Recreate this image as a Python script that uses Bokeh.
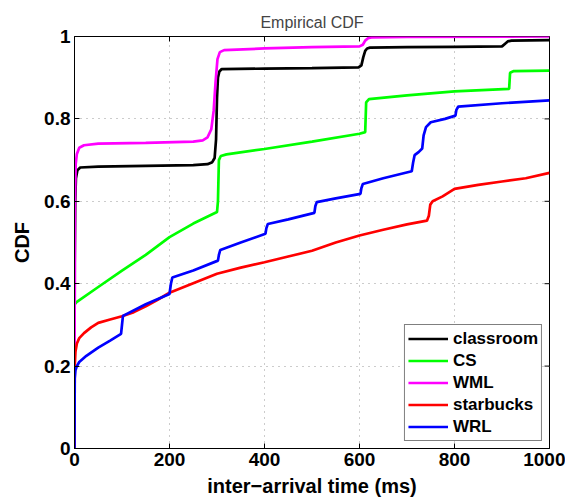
import math
from bokeh.plotting import figure
from bokeh.models import FixedTicker, Legend, LegendItem, Range1d
from bokeh.embed import file_html
from bokeh.resources import INLINE

# ---- data ----
classroom_x = [0, 0.5, 1.5, 3, 6, 12, 50, 150, 250, 280, 290, 295, 298, 300, 302, 305, 310, 400, 500, 598, 604, 608, 612, 616, 622, 700, 800, 900, 906, 912, 920, 1000]
classroom_y = [0, 0.45, 0.6, 0.655, 0.675, 0.682, 0.684, 0.686, 0.688, 0.69, 0.695, 0.705, 0.75, 0.85, 0.9, 0.915, 0.921, 0.922, 0.923, 0.925, 0.93, 0.95, 0.965, 0.971, 0.973, 0.974, 0.975, 0.976, 0.982, 0.988, 0.99, 0.991]

cs_x = [0, 0.3, 5, 50, 100, 150, 200, 250, 300, 302, 304, 308, 320, 400, 500, 600, 612, 614, 620, 700, 800, 915, 917, 925, 1000]
cs_y = [0, 0.35, 0.356, 0.392, 0.432, 0.47, 0.513, 0.546, 0.574, 0.6, 0.7, 0.71, 0.714, 0.727, 0.745, 0.764, 0.768, 0.84, 0.848, 0.857, 0.867, 0.873, 0.912, 0.916, 0.917]

wml_x = [0, 0.3, 1, 2.5, 5, 10, 20, 50, 150, 250, 270, 280, 288, 293, 297, 301, 306, 315, 400, 500, 600, 607, 612, 618, 625, 700, 1000]
wml_y = [0, 0.3, 0.6, 0.69, 0.715, 0.73, 0.736, 0.74, 0.742, 0.745, 0.748, 0.755, 0.775, 0.82, 0.89, 0.945, 0.962, 0.967, 0.971, 0.974, 0.976, 0.98, 0.99, 0.996, 0.998, 0.999, 1.0]

starbucks_x = [0, 0.5, 2, 5, 10, 20, 35, 50, 75, 100, 125, 150, 175, 200, 250, 300, 350, 400, 450, 500, 550, 600, 650, 700, 742, 746, 749, 754, 775, 800, 850, 900, 950, 1000]
starbucks_y = [0, 0.2, 0.235, 0.255, 0.268, 0.28, 0.294, 0.305, 0.313, 0.321, 0.331, 0.345, 0.361, 0.378, 0.401, 0.424, 0.439, 0.452, 0.466, 0.48, 0.5, 0.517, 0.531, 0.544, 0.553, 0.565, 0.592, 0.6, 0.612, 0.63, 0.64, 0.648, 0.656, 0.669]

wrl_x = [0, 0.5, 2, 5, 10, 25, 50, 75, 98, 100, 102, 150, 200, 203, 206, 250, 302, 304, 307, 350, 402, 404, 407, 450, 505, 507, 510, 550, 602, 604, 607, 650, 710, 713, 716, 725, 732, 735, 740, 750, 780, 802, 804, 808, 900, 1000]
wrl_y = [0, 0.17, 0.19, 0.2, 0.21, 0.225, 0.245, 0.262, 0.278, 0.3, 0.322, 0.35, 0.375, 0.4, 0.415, 0.432, 0.456, 0.47, 0.482, 0.5, 0.521, 0.535, 0.545, 0.556, 0.572, 0.588, 0.598, 0.607, 0.618, 0.632, 0.642, 0.656, 0.673, 0.695, 0.712, 0.72, 0.728, 0.76, 0.78, 0.792, 0.8, 0.808, 0.822, 0.83, 0.838, 0.845]

series_names = ["classroom", "CS", "WML", "starbucks", "WRL"]
series_colors = ["#000000", "#00ff00", "#ff00ff", "#ff0000", "#0000ff"]

x_ticks = [0, 200, 400, 600, 800, 1000]
y_ticks = [0, 0.2, 0.4, 0.6, 0.8, 1]
y_tick_labels = {0: "0", 0.2: "0.2", 0.4: "0.4", 0.6: "0.6", 0.8: "0.8", 1: "1"}

FONT = "Liberation Sans"
X_MIN, X_MAX, Y_MIN, Y_MAX = 0, 1000, 0, 1

p = figure(width=565, height=500, output_backend="svg", toolbar_location=None,
           x_range=Range1d(X_MIN, X_MAX), y_range=Range1d(Y_MIN, Y_MAX),
           min_border_left=74, min_border_right=16, min_border_top=36, min_border_bottom=52)

p.title.text = "Empirical CDF"
p.title.align = "center"
p.title.text_font = FONT
p.title.text_font_size = "16px"
p.title.text_font_style = "normal"
p.title.standoff = 11

p.outline_line_color = "black"
p.outline_line_width = 1
p.background_fill_color = "white"
p.border_fill_color = "white"

for ax in (p.xaxis[0], p.yaxis[0]):
    ax.major_tick_in = 5
    ax.major_tick_out = 0
    ax.minor_tick_line_color = None
    ax.axis_line_color = "black"
    ax.major_tick_line_color = "black"
    ax.major_label_text_font = FONT
    ax.major_label_text_font_style = "bold"
    ax.major_label_text_font_size = "19px"
    ax.major_label_text_color = "black"
    ax.axis_label_text_font = FONT
    ax.axis_label_text_font_style = "bold"
    ax.axis_label_text_font_size = "20px"
    ax.axis_label_text_color = "black"

p.xaxis[0].ticker = FixedTicker(ticks=x_ticks)
p.yaxis[0].ticker = FixedTicker(ticks=y_ticks)
p.yaxis[0].major_label_overrides = y_tick_labels
p.xaxis[0].axis_label = "inter\u2212arrival time (ms)"
p.yaxis[0].axis_label = "CDF"
p.xaxis[0].major_label_standoff = 4
p.xaxis[0].axis_label_standoff = 6
p.yaxis[0].major_label_standoff = 4
p.yaxis[0].axis_label_standoff = 8

# inner ticks on the top and right edges of the box
p.ray(x=x_ticks, y=[Y_MAX] * len(x_ticks), length=5, length_units="screen",
      angle=-math.pi / 2, line_color="black", line_width=1)
p.ray(x=[X_MAX] * len(y_ticks), y=y_ticks, length=5, length_units="screen",
      angle=math.pi, line_color="black", line_width=1)

p.xgrid.ticker = FixedTicker(ticks=x_ticks)
p.ygrid.ticker = FixedTicker(ticks=y_ticks)
for g in (p.xgrid[0], p.ygrid[0]):
    g.grid_line_color = "#999999"
    g.grid_line_dash = "1 5"
    g.grid_line_width = 1

xs = [classroom_x, cs_x, wml_x, starbucks_x, wrl_x]
ys = [classroom_y, cs_y, wml_y, starbucks_y, wrl_y]
items = []
for name, color, x, y in zip(series_names, series_colors, xs, ys):
    r = p.line(x, y, line_color=color, line_width=2.7)
    items.append(LegendItem(label=name, renderers=[r]))

legend = Legend(items=items, location="bottom_right")
legend.label_text_font = FONT
legend.label_text_font_style = "bold"
legend.label_text_font_size = "17px"
legend.label_text_color = "black"
legend.glyph_width = 40
legend.glyph_height = 21
legend.label_height = 21
legend.label_standoff = 5
legend.spacing = 1
legend.padding = 3
legend.margin = 7
legend.border_line_color = "black"
legend.border_line_width = 1
legend.background_fill_alpha = 1
p.add_layout(legend, "center")

open("out.html", "w").write(file_html(p, INLINE))
